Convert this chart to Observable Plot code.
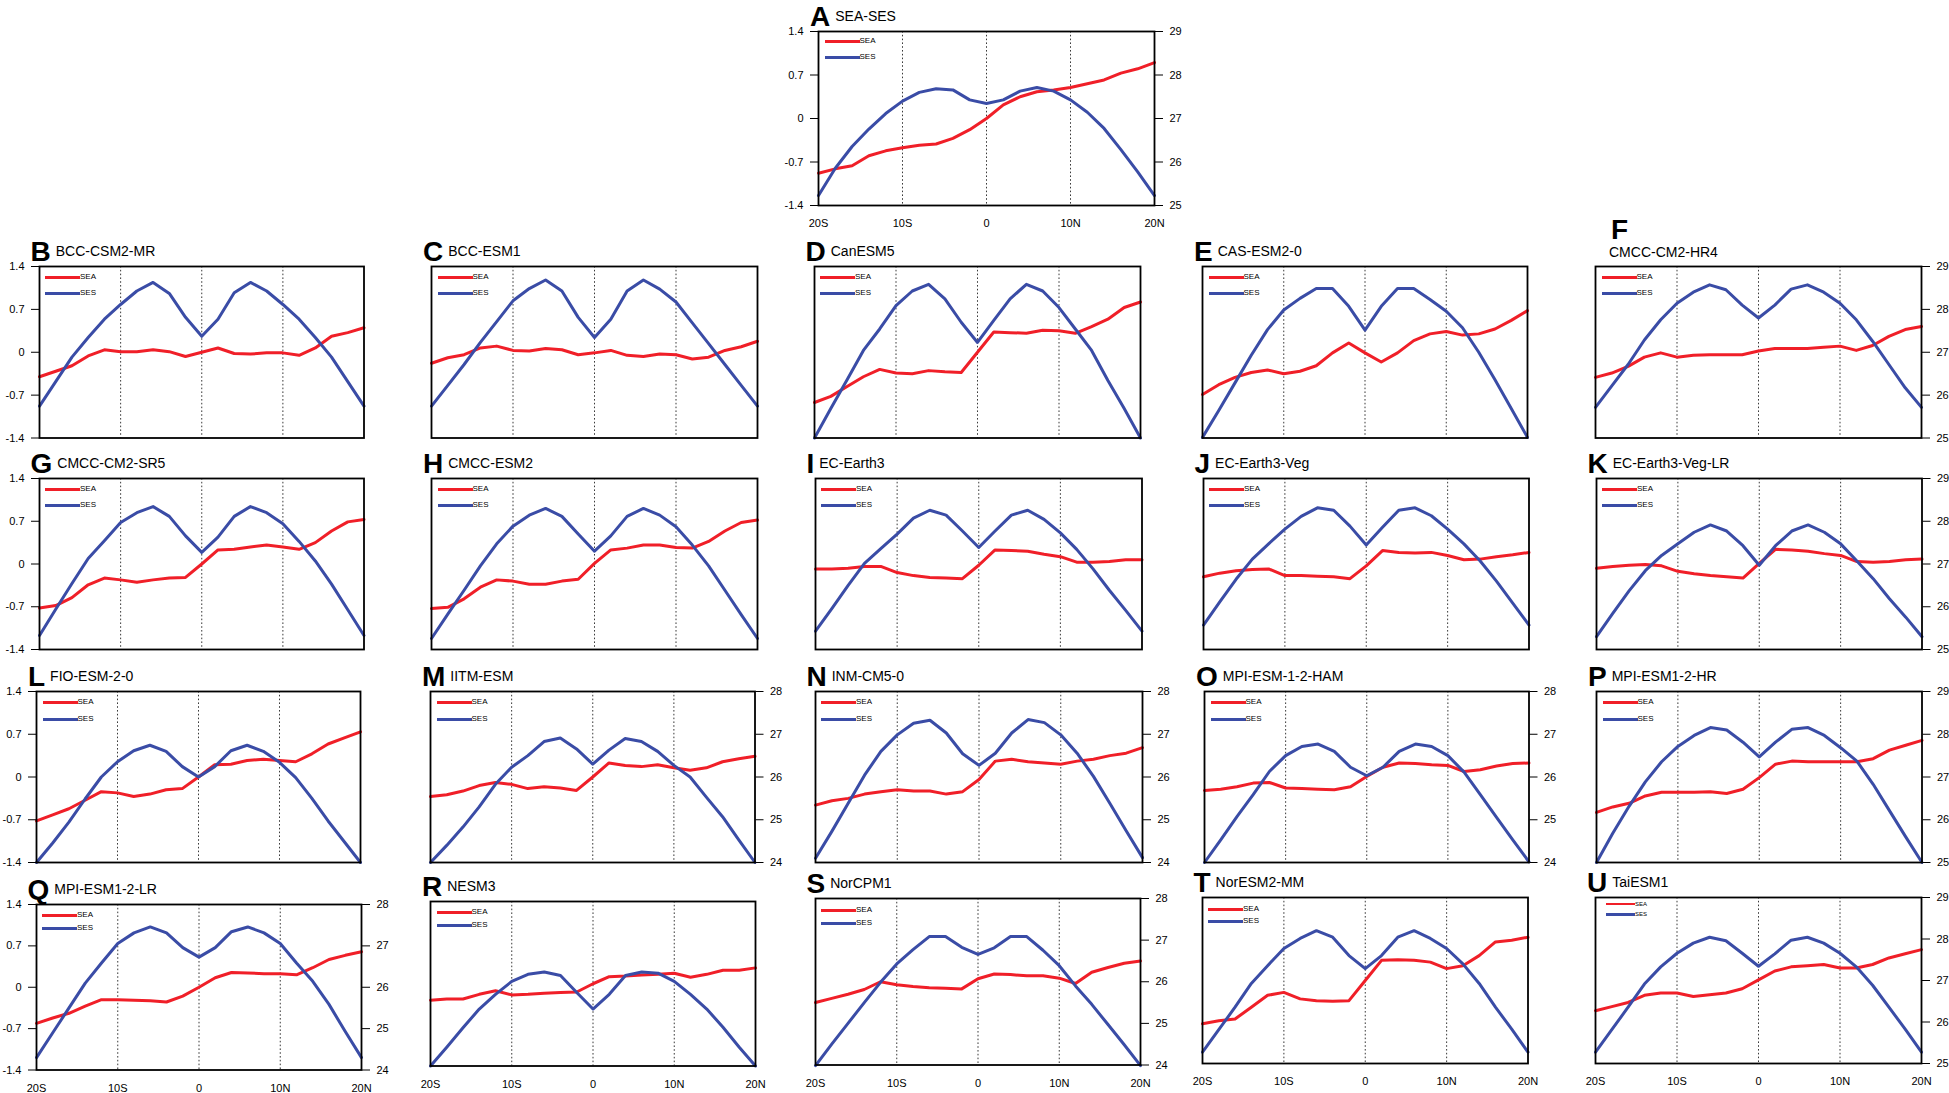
<!DOCTYPE html>
<html><head><meta charset="utf-8">
<script src="https://cdn.jsdelivr.net/npm/d3@7"></script>
<script src="https://cdn.jsdelivr.net/npm/@observablehq/plot@0.6"></script>
<style>
body{margin:0;background:#fff;}
#fig{position:relative;width:1949px;height:1093px;overflow:hidden;font-family:"Liberation Sans",Arial,Helvetica,sans-serif;color:#000;}
.ttl{position:absolute;white-space:nowrap;line-height:1;font-size:28px;}
.ttl .let{font-weight:bold;font-size:28px;}
.ttl .nm{font-size:14px;position:relative;top:-5px;margin-left:5px;}
.abs{position:absolute;white-space:nowrap;}
.legtxt{position:absolute;white-space:nowrap;font-size:8px;line-height:8px;}
.legline{position:absolute;height:3px;}
svg.plotsvg{position:absolute;}
</style></head><body><div id="fig"></div><script>
// ---------------- data ----------------
const lat = [-20,-18,-16,-14,-12,-10,-8,-6,-4,-2,0,2,4,6,8,10,12,14,16,18,20];
const gridLat = [-10,0,10];
const yTicks = [-1.4,-0.7,0,0.7,1.4];
const leftLabels = ["-1.4","-0.7","0","0.7","1.4"];
const rightLabels24 = ["24","25","26","27","28"];
const rightLabels25 = ["25","26","27","28","29"];
const latTicks = [-20,-10,0,10,20];
const latLabels = ["20S","10S","0","10N","20N"];
const seriesNames = ["SEA","SES"];
const panelIds = ["A","B","C","D","E","F","G","H","I","J","K","L","M","N","O","P","Q","R","S","T","U"];
const modelNames = ["SEA-SES","BCC-CSM2-MR","BCC-ESM1","CanESM5","CAS-ESM2-0","CMCC-CM2-HR4","CMCC-CM2-SR5","CMCC-ESM2","EC-Earth3","EC-Earth3-Veg","EC-Earth3-Veg-LR","FIO-ESM-2-0","IITM-ESM","INM-CM5-0","MPI-ESM-1-2-HAM","MPI-ESM1-2-HR","MPI-ESM1-2-LR","NESM3","NorCPM1","NorESM2-MM","TaiESM1"];

const sea_A = [-0.88,-0.81,-0.76,-0.60,-0.52,-0.47,-0.43,-0.41,-0.32,-0.18,0.00,0.22,0.35,0.43,0.46,0.50,0.56,0.62,0.73,0.80,0.90];
const ses_A = [-1.24,-0.80,-0.45,-0.17,0.08,0.28,0.42,0.48,0.46,0.30,0.24,0.30,0.44,0.50,0.44,0.30,0.10,-0.16,-0.50,-0.86,-1.24];
const sea_B = [-0.40,-0.31,-0.22,-0.06,0.04,0.01,0.01,0.04,0.01,-0.07,0.00,0.07,-0.02,-0.03,-0.01,-0.01,-0.05,0.07,0.26,0.32,0.40];
const ses_B = [-0.88,-0.48,-0.08,0.24,0.54,0.78,1.00,1.14,0.96,0.57,0.26,0.54,0.97,1.14,1.00,0.78,0.54,0.24,-0.08,-0.48,-0.88];
const sea_C = [-0.18,-0.09,-0.04,0.07,0.10,0.03,0.02,0.06,0.04,-0.04,-0.01,0.03,-0.05,-0.07,-0.03,-0.04,-0.11,-0.08,0.03,0.09,0.18];
const ses_C = [-0.88,-0.54,-0.20,0.16,0.50,0.84,1.04,1.18,1.00,0.57,0.24,0.54,1.00,1.18,1.03,0.82,0.48,0.14,-0.20,-0.54,-0.88];
const sea_D = [-0.82,-0.72,-0.56,-0.40,-0.28,-0.34,-0.35,-0.30,-0.32,-0.33,0.00,0.33,0.32,0.31,0.36,0.35,0.31,0.42,0.54,0.73,0.82];
const ses_D = [-1.40,-0.92,-0.45,0.03,0.38,0.76,1.00,1.11,0.87,0.49,0.16,0.52,0.87,1.11,1.00,0.73,0.38,0.03,-0.46,-0.92,-1.40];
const sea_E = [-0.69,-0.53,-0.41,-0.33,-0.29,-0.35,-0.31,-0.22,-0.01,0.15,-0.01,-0.16,-0.01,0.19,0.30,0.34,0.28,0.30,0.38,0.52,0.68];
const ses_E = [-1.39,-0.95,-0.50,-0.05,0.37,0.69,0.88,1.04,1.04,0.75,0.36,0.75,1.04,1.04,0.86,0.67,0.40,0.00,-0.45,-0.92,-1.39];
const sea_F = [-0.41,-0.34,-0.23,-0.08,-0.01,-0.08,-0.05,-0.04,-0.04,-0.04,0.02,0.06,0.06,0.06,0.08,0.10,0.03,0.11,0.26,0.37,0.42];
const ses_F = [-0.90,-0.55,-0.20,0.20,0.53,0.80,0.98,1.10,1.02,0.77,0.56,0.77,1.03,1.10,0.98,0.80,0.53,0.18,-0.20,-0.58,-0.90];
const sea_G = [-0.72,-0.68,-0.55,-0.34,-0.23,-0.26,-0.30,-0.26,-0.23,-0.22,0.00,0.23,0.24,0.28,0.31,0.28,0.24,0.35,0.54,0.69,0.73];
const ses_G = [-1.17,-0.74,-0.32,0.09,0.38,0.68,0.84,0.94,0.78,0.46,0.19,0.44,0.78,0.94,0.84,0.66,0.37,0.05,-0.33,-0.75,-1.17];
const sea_H = [-0.73,-0.71,-0.57,-0.38,-0.26,-0.28,-0.33,-0.33,-0.28,-0.25,0.01,0.23,0.26,0.31,0.31,0.27,0.26,0.37,0.54,0.68,0.72];
const ses_H = [-1.22,-0.82,-0.43,-0.03,0.33,0.62,0.80,0.91,0.78,0.49,0.21,0.46,0.78,0.91,0.80,0.61,0.31,-0.03,-0.43,-0.83,-1.22];
const sea_I = [-0.08,-0.08,-0.07,-0.04,-0.04,-0.14,-0.19,-0.22,-0.23,-0.24,-0.02,0.23,0.22,0.21,0.16,0.12,0.03,0.03,0.04,0.07,0.07];
const ses_I = [-1.10,-0.73,-0.35,0.01,0.25,0.49,0.75,0.88,0.80,0.54,0.27,0.54,0.80,0.88,0.73,0.51,0.24,-0.08,-0.43,-0.76,-1.10];
const sea_J = [-0.21,-0.15,-0.11,-0.09,-0.08,-0.19,-0.19,-0.20,-0.21,-0.24,-0.03,0.22,0.19,0.18,0.19,0.14,0.07,0.08,0.12,0.15,0.19];
const ses_J = [-1.00,-0.62,-0.25,0.08,0.33,0.57,0.78,0.92,0.88,0.62,0.31,0.60,0.88,0.92,0.79,0.57,0.33,0.05,-0.28,-0.64,-1.00];
const sea_K = [-0.07,-0.04,-0.02,-0.01,-0.03,-0.12,-0.16,-0.19,-0.21,-0.23,0.01,0.24,0.23,0.21,0.17,0.14,0.04,0.03,0.04,0.07,0.08];
const ses_K = [-1.19,-0.81,-0.44,-0.11,0.14,0.33,0.52,0.64,0.54,0.30,-0.02,0.30,0.54,0.64,0.52,0.33,0.05,-0.24,-0.57,-0.87,-1.19];
const sea_L = [-0.72,-0.62,-0.52,-0.38,-0.24,-0.26,-0.32,-0.28,-0.21,-0.19,0.00,0.20,0.21,0.27,0.29,0.27,0.25,0.38,0.54,0.64,0.74];
const ses_L = [-1.40,-1.08,-0.74,-0.36,0.00,0.25,0.43,0.52,0.42,0.17,0.00,0.17,0.43,0.52,0.42,0.24,-0.01,-0.35,-0.72,-1.06,-1.40];
const sea_M = [-0.32,-0.29,-0.23,-0.14,-0.09,-0.12,-0.19,-0.16,-0.18,-0.22,0.00,0.23,0.19,0.17,0.20,0.15,0.11,0.15,0.25,0.30,0.34];
const ses_M = [-1.40,-1.12,-0.82,-0.49,-0.12,0.16,0.35,0.58,0.64,0.46,0.21,0.44,0.63,0.58,0.42,0.19,0.00,-0.33,-0.65,-1.03,-1.40];
const sea_N = [-0.46,-0.39,-0.35,-0.28,-0.24,-0.21,-0.23,-0.23,-0.28,-0.24,-0.04,0.26,0.29,0.25,0.23,0.21,0.26,0.29,0.35,0.39,0.48];
const ses_N = [-1.33,-0.89,-0.43,0.03,0.42,0.69,0.88,0.93,0.72,0.38,0.19,0.39,0.72,0.94,0.89,0.69,0.39,0.01,-0.43,-0.88,-1.32];
const sea_O = [-0.22,-0.20,-0.16,-0.10,-0.09,-0.18,-0.19,-0.20,-0.21,-0.16,0.01,0.16,0.23,0.22,0.20,0.19,0.09,0.12,0.18,0.22,0.23];
const ses_O = [-1.40,-1.03,-0.65,-0.29,0.09,0.35,0.50,0.54,0.42,0.16,0.02,0.16,0.42,0.54,0.50,0.35,0.08,-0.29,-0.66,-1.03,-1.39];
const sea_P = [-0.58,-0.49,-0.43,-0.31,-0.25,-0.25,-0.25,-0.24,-0.27,-0.20,-0.01,0.21,0.26,0.25,0.25,0.25,0.25,0.30,0.44,0.52,0.60];
const ses_P = [-1.40,-0.92,-0.48,-0.08,0.25,0.50,0.68,0.81,0.77,0.57,0.33,0.57,0.78,0.81,0.68,0.48,0.26,-0.12,-0.55,-0.98,-1.40];
const sea_Q = [-0.61,-0.52,-0.44,-0.32,-0.21,-0.21,-0.22,-0.23,-0.25,-0.15,0.00,0.16,0.25,0.24,0.23,0.23,0.21,0.33,0.47,0.54,0.60];
const ses_Q = [-1.19,-0.77,-0.35,0.07,0.41,0.74,0.92,1.02,0.92,0.67,0.51,0.67,0.94,1.02,0.92,0.74,0.41,0.10,-0.29,-0.75,-1.19];
const sea_R = [-0.28,-0.26,-0.26,-0.18,-0.12,-0.19,-0.18,-0.16,-0.15,-0.14,0.00,0.12,0.13,0.15,0.16,0.18,0.11,0.16,0.23,0.23,0.27];
const ses_R = [-1.40,-1.08,-0.75,-0.43,-0.18,0.04,0.16,0.20,0.14,-0.15,-0.43,-0.18,0.14,0.20,0.18,0.04,-0.18,-0.43,-0.74,-1.08,-1.40];
const sea_S = [-0.35,-0.28,-0.21,-0.13,0.00,-0.05,-0.08,-0.10,-0.11,-0.12,0.05,0.13,0.12,0.10,0.10,0.06,-0.03,0.16,0.24,0.31,0.35];
const ses_S = [-1.41,-1.05,-0.70,-0.35,-0.01,0.30,0.54,0.76,0.76,0.58,0.46,0.57,0.76,0.76,0.53,0.27,-0.07,-0.38,-0.72,-1.06,-1.41];
const sea_T = [-0.73,-0.68,-0.65,-0.45,-0.25,-0.20,-0.31,-0.34,-0.35,-0.34,0.00,0.34,0.35,0.34,0.31,0.20,0.25,0.42,0.65,0.68,0.73];
const ses_T = [-1.21,-0.83,-0.45,-0.05,0.25,0.54,0.71,0.84,0.73,0.42,0.20,0.42,0.73,0.84,0.71,0.54,0.28,-0.05,-0.45,-0.82,-1.21];
const sea_U = [-0.51,-0.44,-0.37,-0.25,-0.21,-0.21,-0.27,-0.24,-0.21,-0.14,0.01,0.16,0.23,0.25,0.27,0.21,0.21,0.27,0.38,0.45,0.52];
const ses_U = [-1.21,-0.83,-0.45,-0.06,0.23,0.46,0.63,0.73,0.67,0.46,0.24,0.45,0.68,0.73,0.63,0.46,0.23,-0.08,-0.45,-0.82,-1.21];

const series = {
  A:[sea_A,ses_A],B:[sea_B,ses_B],C:[sea_C,ses_C],D:[sea_D,ses_D],E:[sea_E,ses_E],F:[sea_F,ses_F],
  G:[sea_G,ses_G],H:[sea_H,ses_H],I:[sea_I,ses_I],J:[sea_J,ses_J],K:[sea_K,ses_K],L:[sea_L,ses_L],
  M:[sea_M,ses_M],N:[sea_N,ses_N],O:[sea_O,ses_O],P:[sea_P,ses_P],Q:[sea_Q,ses_Q],R:[sea_R,ses_R],
  S:[sea_S,ses_S],T:[sea_T,ses_T],U:[sea_U,ses_U]
};

// ---------------- layout / style ----------------
const RED = "#f01f28", BLUE = "#3a4ca6";
const colors = [RED, BLUE];
const r1 = {y:265.5,h:171.5}, r2 = {y:477.5,h:171}, r3 = {y:691,h:171};
const layout = {
  A:{x:818,y:31,w:336,h:174,left:true,right:25,bottom:true,leg:[10,26]},
  B:{x:38.5,...r1,w:324.5,left:true},
  C:{x:431,...r1,w:326},
  D:{x:813.5,...r1,w:326},
  E:{x:1202,...r1,w:325},
  F:{x:1595,...r1,w:326,right:25,titleSpecial:true},
  G:{x:38.5,...r2,w:324.5,left:true},
  H:{x:431,...r2,w:326},
  I:{x:814.5,...r2,w:326.5},
  J:{x:1202.5,...r2,w:325.5},
  K:{x:1595.5,...r2,w:325.5,right:25},
  L:{x:36,...r3,w:324,left:true},
  M:{x:430,...r3,w:324.5,right:24},
  N:{x:814.5,...r3,w:327,right:24},
  O:{x:1204,...r3,w:324.5,right:24},
  P:{x:1596,...r3,w:325.5,right:25},
  Q:{x:35.5,y:903.5,w:325,h:165.5,left:true,right:24,bottom:true,leg:[12.3,25]},
  R:{x:430,y:900.5,w:325,h:164.5,bottom:true,leg:[12,24.7]},
  S:{x:814.5,y:897.5,w:325,h:166.5,right:24,bottom:true,leg:[13,25.7]},
  T:{x:1201.5,y:897,w:325.5,h:166,bottom:true,leg:[12,24.7]},
  U:{x:1595,y:897,w:326,h:166,right:25,bottom:true,leg:[7,17.7],small:true}
};

const fig = document.getElementById("fig");
const ml = 50, mr = 50, mt = 4, mb = 34;

function addDiv(cls, css, html){
  const d = document.createElement("div");
  d.className = cls;
  Object.assign(d.style, css);
  if (html !== undefined) d.innerHTML = html;
  fig.appendChild(d);
  return d;
}

panelIds.forEach((id, k) => {
  const L = layout[id];
  const [sea, ses] = series[id];
  const marks = [
    Plot.ruleX(gridLat, {stroke:"#3a3a3a", strokeWidth:1, strokeDasharray:"1.6,2.2"}),
    Plot.line(lat, {x:d=>d, y:(d,i)=>sea[i], stroke:RED, strokeWidth:3, strokeLinejoin:"round"}),
    Plot.line(lat, {x:d=>d, y:(d,i)=>ses[i], stroke:BLUE, strokeWidth:3, strokeLinejoin:"round"}),
    Plot.frame({stroke:"#000", strokeWidth:1.8})
  ];
  if (L.left) marks.push(Plot.axisY(yTicks, {anchor:"left", tickSize:8, tickPadding:7, label:null,
      tickFormat: v => leftLabels[yTicks.indexOf(v)]}));
  if (L.right) {
    const labs = L.right === 24 ? rightLabels24 : rightLabels25;
    marks.push(Plot.axisY(yTicks, {anchor:"right", tickSize:8, tickPadding:7, label:null,
      tickFormat: v => labs[yTicks.indexOf(v)]}));
  }
  if (L.bottom) marks.push(Plot.axisX(latTicks, {anchor:"bottom", tickSize:0, tickPadding:14, label:null,
      tickFormat: v => latLabels[latTicks.indexOf(v)]}));
  const hasY = L.left || L.right;
  const svg = Plot.plot({
    width: L.w + ml + mr,
    height: L.h + mt + mb,
    marginLeft: ml, marginRight: mr, marginTop: mt, marginBottom: mb,
    x: {domain:[-20,20], axis: L.bottom ? undefined : null},
    y: {domain:[-1.4,1.4], axis: hasY ? undefined : null},
    style: {fontFamily:'"Liberation Sans", Arial, sans-serif', fontSize:"11px", background:"transparent", color:"#000", overflow:"visible", maxWidth:"none"},
    marks
  });
  svg.classList.add("plotsvg");
  svg.style.left = (L.x - ml) + "px";
  svg.style.top = (L.y - mt) + "px";
  fig.appendChild(svg);

  // title
  if (L.titleSpecial) {
    addDiv("abs", {left:(L.x+16)+"px", top:(L.y-47)+"px", fontSize:"28px", fontWeight:"bold", lineHeight:"21px", height:"21px"}, id);
    addDiv("abs", {left:(L.x+14)+"px", top:(L.y-21)+"px", fontSize:"14px", lineHeight:"14px"}, modelNames[k]);
  } else {
    addDiv("ttl", {left:(L.x-8)+"px", top:(L.y-28)+"px"},
      `<span class="let">${id}</span><span class="nm">${modelNames[k]}</span>`);
  }

  // legend
  const leg = L.leg || [11.5, 28];
  const x0 = L.small ? 11 : 6.5, len = L.small ? 29 : 35;
  const fs = L.small ? 6 : 8, lw = L.small ? 2.5 : 3;
  seriesNames.forEach((nm, j) => {
    addDiv("legline", {left:(L.x+x0)+"px", top:(L.y+leg[j]-lw/2)+"px", width:len+"px", height:lw+"px", background:colors[j]});
    addDiv("legtxt", {left:(L.x+x0+len)+"px", top:(L.y+leg[j]-fs/2-0.5)+"px", fontSize:fs+"px", lineHeight:fs+"px"}, nm);
  });
});
</script></body></html>
